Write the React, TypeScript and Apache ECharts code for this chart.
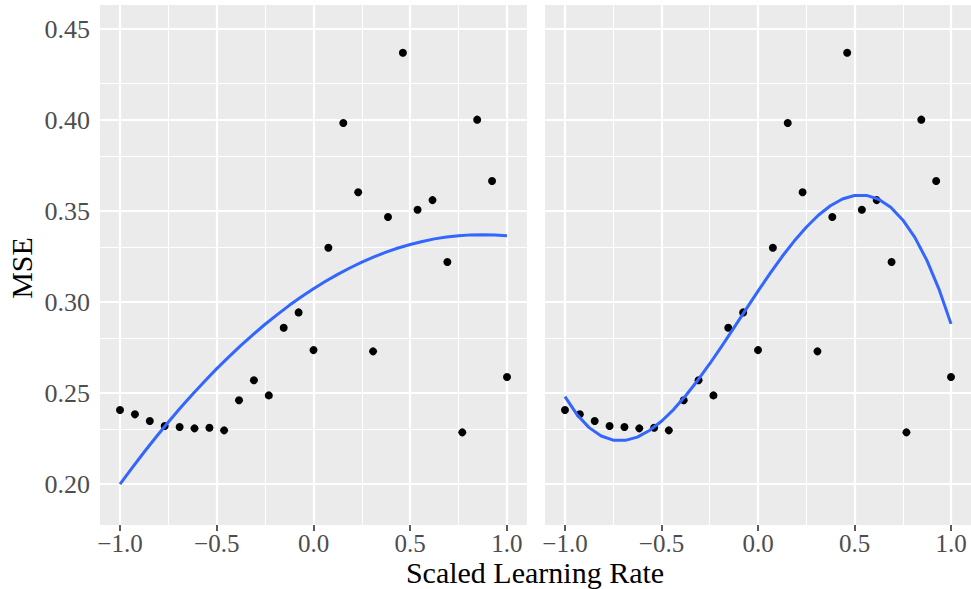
import React, { useEffect, useRef } from "react";
import * as echarts from "echarts";

// Scaled learning rate (x) and observed MSE (y), shared by both panels
const xValues = [
  -1.0, -0.923, -0.846, -0.769, -0.692, -0.615, -0.538, -0.462, -0.385,
  -0.308, -0.231, -0.154, -0.077, 0.0, 0.077, 0.154, 0.231, 0.308, 0.385,
  0.462, 0.538, 0.615, 0.692, 0.769, 0.846, 0.923, 1.0,
];
const mseValues = [
  0.2407, 0.2383, 0.2346, 0.2319, 0.2313, 0.2306, 0.2309, 0.2295, 0.246,
  0.257, 0.2487, 0.2859, 0.2943, 0.2736, 0.3298, 0.3984, 0.3603, 0.2729,
  0.3467, 0.437, 0.3507, 0.356, 0.322, 0.2284, 0.4002, 0.3665, 0.2588,
];

const fitX = [
  -1, -0.9375, -0.875, -0.8125, -0.75, -0.6875, -0.625, -0.5625, -0.5,
  -0.4375, -0.375, -0.3125, -0.25, -0.1875, -0.125, -0.0625, 0, 0.0625,
  0.125, 0.1875, 0.25, 0.3125, 0.375, 0.4375, 0.5, 0.5625, 0.625, 0.6875,
  0.75, 0.8125, 0.875, 0.9375, 1,
];
const leftFit = [
  0.1999, 0.2089, 0.2176, 0.226, 0.2341, 0.2419, 0.2493, 0.2565, 0.2634,
  0.2699, 0.2762, 0.2821, 0.2878, 0.2931, 0.2982, 0.3029, 0.3073, 0.3114,
  0.3152, 0.3187, 0.3219, 0.3248, 0.3274, 0.3297, 0.3316, 0.3333, 0.3347,
  0.3357, 0.3364, 0.3369, 0.337, 0.3368, 0.3364,
];
const rightFit = [
  0.248, 0.2381, 0.231, 0.2264, 0.2241, 0.224, 0.2258, 0.2294, 0.2345,
  0.2409, 0.2485, 0.2569, 0.2661, 0.2758, 0.2858, 0.296, 0.306, 0.3157,
  0.325, 0.3335, 0.3411, 0.3477, 0.3529, 0.3566, 0.3585, 0.3586, 0.3565,
  0.3521, 0.3451, 0.3355, 0.3229, 0.3071, 0.288,
];

// Ticks and grid lines
const xTicks = [-1, -0.5, 0, 0.5, 1];
const xMinor = [-0.75, -0.25, 0.25, 0.75];
const yTicks = [0.2, 0.25, 0.3, 0.35, 0.4, 0.45];
const yMinor = [0.225, 0.275, 0.325, 0.375, 0.425];

const X_MIN = -1.1035;
const X_MAX = 1.1035;
const Y_MIN = 0.1775;
const Y_MAX = 0.4632;

const FONT = "Liberation Serif";

export default function App() {
  const ref = useRef<HTMLDivElement>(null);

  useEffect(() => {
    if (!ref.current) return;
    const chart = echarts.init(ref.current, undefined, { renderer: "svg" });

    const points = xValues.map((x, i) => [x, mseValues[i]]);
    const gridMarks = [
      ...xMinor.map((v) => ({ xAxis: v, lineStyle: { width: 1.1 } })),
      ...xTicks.map((v) => ({ xAxis: v, lineStyle: { width: 2.2 } })),
      ...yMinor.map((v) => ({ yAxis: v, lineStyle: { width: 1.1 } })),
      ...yTicks.map((v) => ({ yAxis: v, lineStyle: { width: 2.2 } })),
    ];

    const makeX = (idx: number) => ({
      type: "value",
      gridIndex: idx,
      min: X_MIN,
      max: X_MAX,
      axisLine: { show: false },
      splitLine: { show: false },
      axisTick: {
        show: true,
        customValues: xTicks,
        length: 6,
        lineStyle: { color: "#333333", width: 1.6 },
      },
      axisLabel: {
        show: true,
        customValues: xTicks,
        margin: 6,
        fontFamily: FONT,
        fontSize: 25,
        color: "#4D4D4D",
        formatter: (v: number) =>
          (v < 0 ? "\u2212" : "") + Math.abs(v).toFixed(1),
      },
    });

    const makeY = (idx: number, labels: boolean) => ({
      type: "value",
      gridIndex: idx,
      min: Y_MIN,
      max: Y_MAX,
      axisLine: { show: false },
      splitLine: { show: false },
      axisTick: {
        show: labels,
        customValues: yTicks,
        length: 5,
        lineStyle: { color: "#333333", width: 1.6 },
      },
      axisLabel: {
        show: labels,
        customValues: yTicks,
        margin: 10,
        fontFamily: FONT,
        fontSize: 26,
        color: "#4D4D4D",
        formatter: (v: number) => v.toFixed(2),
      },
    });

    const makeScatter = (idx: number) => ({
      type: "scatter",
      xAxisIndex: idx,
      yAxisIndex: idx,
      data: points,
      symbolSize: 8,
      itemStyle: { color: "#000000", opacity: 1 },
      z: 2,
      silent: true,
      markLine: {
        silent: true,
        z: 1,
        symbol: ["none", "none"],
        label: { show: false },
        lineStyle: { color: "#FFFFFF", type: "solid" },
        emphasis: { disabled: true },
        data: gridMarks,
      },
    });

    const makeLine = (idx: number, ys: number[]) => ({
      type: "line",
      xAxisIndex: idx,
      yAxisIndex: idx,
      data: fitX.map((x, i) => [x, ys[i]]),
      smooth: false,
      showSymbol: false,
      symbol: "none",
      lineStyle: { color: "#3366FF", width: 3, join: "round", cap: "butt" },
      z: 3,
      silent: true,
    });

    chart.setOption({
      animation: false,
      backgroundColor: "#FFFFFF",
      grid: [
        {
          left: 100,
          top: 5,
          width: 427,
          height: 520,
          show: true,
          backgroundColor: "#EBEBEB",
          borderWidth: 0,
          containLabel: false,
          outerBoundsMode: "none",
        },
        {
          left: 545,
          top: 5,
          width: 426,
          height: 520,
          show: true,
          backgroundColor: "#EBEBEB",
          borderWidth: 0,
          containLabel: false,
          outerBoundsMode: "none",
        },
      ],
      xAxis: [makeX(0), makeX(1)],
      yAxis: [makeY(0, true), makeY(1, false)],
      series: [
        makeScatter(0),
        makeScatter(1),
        makeLine(0, leftFit),
        makeLine(1, rightFit),
      ],
      graphic: [
        {
          type: "text",
          x: 535,
          y: 572,
          style: {
            text: "Scaled Learning Rate",
            fontFamily: FONT,
            fontSize: 30,
            fill: "#000000",
            align: "center",
            verticalAlign: "middle",
          },
        },
        {
          type: "text",
          x: 21.5,
          y: 268,
          rotation: Math.PI / 2,
          style: {
            text: "MSE",
            fontFamily: FONT,
            fontSize: 30,
            fill: "#000000",
            align: "center",
            verticalAlign: "middle",
          },
        },
      ],
    });

    return () => chart.dispose();
  }, []);

  return (
    <div
      ref={ref}
      style={{ position: "absolute", left: 0, top: 0, width: 971, height: 589 }}
    />
  );
}
